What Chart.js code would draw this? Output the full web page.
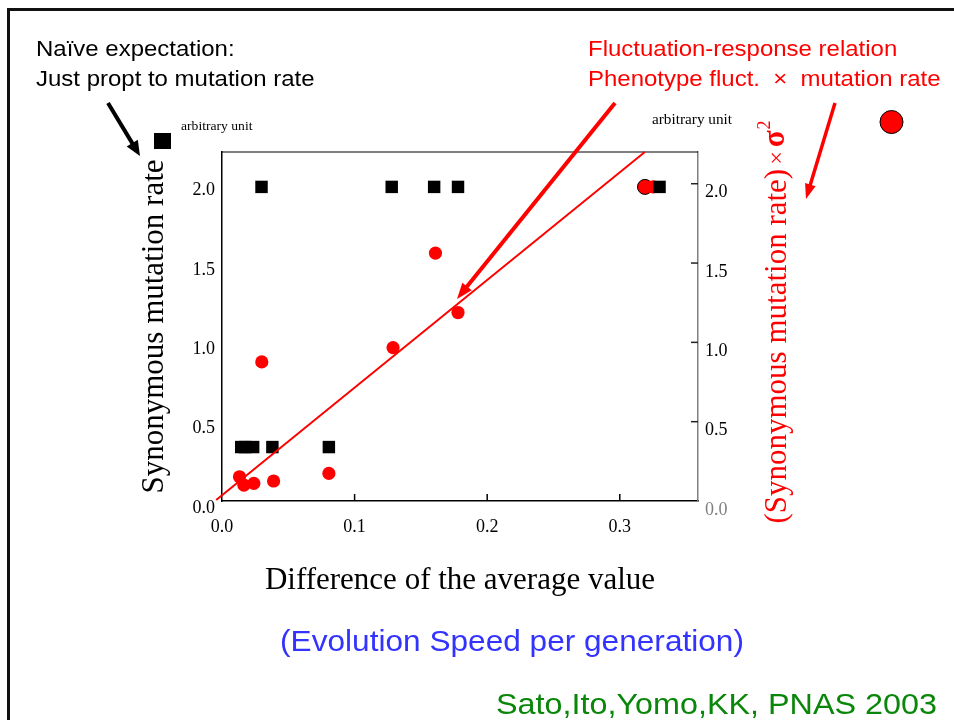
<!DOCTYPE html>
<html>
<head>
<meta charset="utf-8">
<script src="https://cdn.jsdelivr.net/npm/chart.js@4/dist/chart.umd.min.js"></script>
<style>
  html, body { margin: 0; padding: 0; background: #fff; }
  canvas { display: block; }
</style>
</head>
<body>
<canvas id="c" width="954" height="720"></canvas>
<script>
// Axis ticks
const xTicks = [0.0, 0.1, 0.2, 0.3];
const yTicks = [0.0, 0.5, 1.0, 1.5, 2.0];

// Synonymous mutation rate (black squares)
const rateX = [0.0298, 0.128, 0.160, 0.178, 0.330, 0.0145, 0.0175, 0.0235, 0.038, 0.0806];
const rateY = [1.98, 1.98, 1.98, 1.98, 1.98, 0.34, 0.34, 0.34, 0.34, 0.34];

// (Synonymous mutation rate) x sigma^2 (red circles)
const fluctX = [0.0132, 0.0165, 0.024, 0.0389, 0.0806, 0.030, 0.129, 0.161, 0.178, 0.325];
const fluctY = [0.153, 0.100, 0.111, 0.126, 0.174, 0.877, 0.967, 1.563, 1.188, 1.98];
const fluctEdgeX = [0.319];
const fluctEdgeY = [1.98];

// Linear fit through the red points
const fitX = [-0.0044, 0.3189];
const fitY = [0.006, 2.2];

const SERIF = '"Liberation Serif", "Times New Roman", serif';
const SANS = '"Liberation Sans", Arial, sans-serif';
const RED = '#ff0000';

const pts = (xs, ys) => xs.map((x, i) => ({ x, y: ys[i] }));
const fmt = v => Number(v).toFixed(1);

function wideText(ctx, text, x, y, font, color, align, sx) {
  sx = sx || 1.09;
  ctx.save();
  ctx.font = font;
  ctx.fillStyle = color;
  ctx.textBaseline = 'alphabetic';
  ctx.textAlign = 'left';
  const w = ctx.measureText(text).width * sx;
  const x0 = align === 'center' ? x - w / 2 : align === 'right' ? x - w : x;
  ctx.translate(x0, y);
  ctx.scale(sx, 1);
  ctx.fillText(text, 0, 0);
  ctx.restore();
}

function arrow(ctx, x1, y1, x2, y2, color, lw, head, headW) {
  const a = Math.atan2(y2 - y1, x2 - x1);
  const bx = x2 - head * Math.cos(a), by = y2 - head * Math.sin(a);
  ctx.save();
  ctx.strokeStyle = color;
  ctx.fillStyle = color;
  ctx.lineWidth = lw;
  ctx.lineCap = 'butt';
  ctx.beginPath();
  ctx.moveTo(x1, y1);
  ctx.lineTo(bx + Math.cos(a) * 2, by + Math.sin(a) * 2);
  ctx.stroke();
  ctx.beginPath();
  ctx.moveTo(x2, y2);
  ctx.lineTo(bx + headW / 2 * Math.sin(a), by - headW / 2 * Math.cos(a));
  ctx.lineTo(bx - headW / 2 * Math.sin(a), by + headW / 2 * Math.cos(a));
  ctx.closePath();
  ctx.fill();
  ctx.restore();
}

// Frame top edge and inward tick marks
const framePlugin = {
  id: 'frame',
  beforeDatasetsDraw(chart) {
    const { ctx, chartArea: ca, scales } = chart;
    ctx.save();
    ctx.strokeStyle = '#000';
    ctx.lineWidth = 1.2;
    ctx.beginPath();
    ctx.moveTo(ca.left, ca.top);
    ctx.lineTo(ca.right, ca.top);
    ctx.stroke();
    ctx.lineWidth = 1.5;
    xTicks.slice(1).forEach(v => {
      const px = scales.x.getPixelForValue(v);
      ctx.beginPath();
      ctx.moveTo(px, ca.bottom);
      ctx.lineTo(px, ca.bottom - 7);
      ctx.stroke();
    });
    ctx.strokeStyle = '#222';
    yTicks.slice(1).forEach(v => {
      const py = scales.y2.getPixelForValue(v);
      ctx.beginPath();
      ctx.moveTo(ca.right - 7, py);
      ctx.lineTo(ca.right, py);
      ctx.stroke();
    });
    ctx.restore();
  }
};

// Slide text, legend markers and arrows
const notesPlugin = {
  id: 'notes',
  afterDraw(chart) {
    const { ctx } = chart;
    ctx.save();

    // slide border
    ctx.fillStyle = '#111';
    ctx.fillRect(7, 8, 954 - 7, 3);
    ctx.fillRect(7, 8, 3, 720 - 8);

    wideText(ctx, 'Naïve expectation:', 36, 56, '22px ' + SANS, '#000');
    wideText(ctx, 'Just propt to mutation rate', 36, 86, '22px ' + SANS, '#000');
    wideText(ctx, 'Fluctuation-response relation', 588, 56, '22px ' + SANS, RED);
    wideText(ctx, 'Phenotype fluct. \u00a0\u00d7\u00a0 mutation rate', 588, 86, '22px ' + SANS, RED);

    wideText(ctx, '(Evolution Speed per generation)', 512, 651, '29px ' + SANS, '#3333ff', 'center');
    wideText(ctx, 'Sato,Ito,Yomo,KK, PNAS 2003', 937, 714, '29px ' + SANS, '#0a870a', 'right', 1.115);

    wideText(ctx, 'arbitrary unit', 181, 130, '12.5px ' + SERIF, '#000');
    wideText(ctx, 'arbitrary unit', 652, 124, '14px ' + SERIF, '#000');

    // series markers
    ctx.fillStyle = '#000';
    ctx.fillRect(154, 133, 17, 16);
    ctx.beginPath();
    ctx.arc(891.5, 122, 11.5, 0, Math.PI * 2);
    ctx.fillStyle = RED;
    ctx.fill();
    ctx.lineWidth = 1;
    ctx.strokeStyle = '#000';
    ctx.stroke();

    // right-hand axis title, read bottom to top
    ctx.save();
    ctx.translate(776, 322);
    ctx.rotate(-Math.PI / 2);
    ctx.fillStyle = RED;
    ctx.textBaseline = 'middle';
    ctx.textAlign = 'left';
    const main = '(Synonymous mutation rate)';
    ctx.font = '31px ' + SERIF;
    const wMain = ctx.measureText(main).width;
    ctx.font = '24px ' + SERIF;
    const wTimes = ctx.measureText('\u00d7').width;
    ctx.font = 'bold 31px ' + SERIF;
    const wSig = ctx.measureText('\u03c3').width;
    ctx.font = '18px ' + SERIF;
    const wTwo = ctx.measureText('2').width;
    const gap = 4;
    const total = wMain + gap + wTimes + gap + wSig + 1 + wTwo;
    let cx = -total / 2;
    ctx.font = '31px ' + SERIF;
    ctx.fillText(main, cx, 2);
    cx += wMain + gap;
    ctx.font = '24px ' + SERIF;
    ctx.fillText('\u00d7', cx, 2);
    cx += wTimes + gap;
    ctx.font = 'bold 31px ' + SERIF;
    ctx.fillText('\u03c3', cx, 0);
    cx += wSig + 1;
    ctx.font = '18px ' + SERIF;
    ctx.fillText('2', cx, -11);
    ctx.restore();

    // arrows
    arrow(ctx, 108, 103, 140, 156, '#000', 4, 15, 13);
    arrow(ctx, 615, 103, 457, 299, RED, 4, 16, 12);
    arrow(ctx, 835, 103, 806, 199, RED, 3.5, 15, 11);

    ctx.restore();
  }
};

const chart = new Chart(document.getElementById('c'), {
  type: 'scatter',
  data: {
    datasets: [
      {
        label: 'fit',
        data: pts(fitX, fitY),
        showLine: true,
        borderColor: RED,
        borderWidth: 2,
        pointRadius: 0,
        clip: false
      },
      {
        label: 'Synonymous mutation rate',
        data: pts(rateX, rateY),
        pointStyle: 'rect',
        pointRadius: 8.8,
        backgroundColor: '#000',
        borderWidth: 0
      },
      {
        label: '(Synonymous mutation rate) x sigma^2',
        data: pts(fluctX, fluctY),
        pointStyle: 'circle',
        pointRadius: 6.6,
        backgroundColor: RED,
        borderWidth: 0
      },
      {
        label: 'edge',
        data: pts(fluctEdgeX, fluctEdgeY),
        pointStyle: 'circle',
        pointRadius: 7.5,
        backgroundColor: RED,
        borderColor: '#000',
        borderWidth: 1
      }
    ]
  },
  options: {
    responsive: false,
    animation: false,
    devicePixelRatio: 1,
    layout: { padding: { top: 152, left: 0, right: 0, bottom: 0 } },
    plugins: { legend: { display: false }, tooltip: { enabled: false } },
    scales: {
      x: {
        type: 'linear',
        position: 'bottom',
        min: 0,
        max: 0.359,
        afterBuildTicks: s => { s.ticks = xTicks.map(v => ({ value: v })); },
        afterFit: s => { s.height = 219; },
        grid: { display: false, drawTicks: false },
        border: { display: true, color: '#000', width: 1.5 },
        ticks: {
          padding: 15,
          maxRotation: 0,
          autoSkip: false,
          color: '#000',
          font: { family: SERIF, size: 18 },
          callback: v => fmt(v)
        },
        title: {
          display: true,
          text: 'Difference of the average value',
          color: '#000',
          font: { family: SERIF, size: 31 },
          padding: { top: 0, bottom: 121 }
        }
      },
      y: {
        type: 'linear',
        position: 'left',
        min: 0,
        max: 2.2,
        afterBuildTicks: s => { s.ticks = yTicks.map(v => ({ value: v })); },
        afterFit: s => { s.width = 222; },
        grid: { display: false, drawTicks: false },
        border: { display: true, color: '#000', width: 1.5 },
        ticks: {
          padding: 7,
          labelOffset: 7,
          autoSkip: false,
          color: '#000',
          font: { family: SERIF, size: 18 },
          callback: v => fmt(v)
        },
        title: {
          display: true,
          text: 'Synonymous mutation rate',
          color: '#000',
          font: { family: SERIF, size: 31 },
          padding: { top: 136, bottom: 0 }
        }
      },
      y2: {
        type: 'linear',
        position: 'right',
        min: 0,
        max: 2.2,
        afterBuildTicks: s => { s.ticks = yTicks.map(v => ({ value: v })); },
        afterFit: s => { s.width = 256; },
        grid: { display: false, drawTicks: false },
        border: { display: true, color: '#808080', width: 1.5 },
        ticks: {
          padding: 7,
          labelOffset: 9,
          autoSkip: false,
          color: c => (c.tick && c.tick.value === 0 ? '#808080' : '#000'),
          font: { family: SERIF, size: 18 },
          callback: v => fmt(v)
        }
      }
    }
  },
  plugins: [framePlugin, notesPlugin]
});
</script>
</body>
</html>
